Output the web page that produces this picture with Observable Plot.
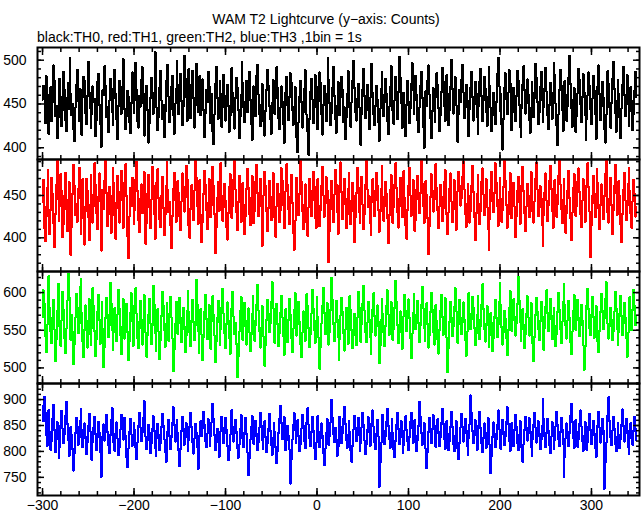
<!DOCTYPE html>
<html>
<head>
<meta charset="utf-8">
<script src="https://cdn.jsdelivr.net/npm/d3@7"></script>
<script src="https://cdn.jsdelivr.net/npm/@observablehq/plot@0.6"></script>
<style>
  body { margin: 0; background: #fff; }
  #chart { position: relative; width: 643px; height: 515px; font-family: "Liberation Sans", Arial, Helvetica, sans-serif; color: #000; background: #fff; overflow: hidden; }
  .title { position: absolute; left: 0; width: 652px; top: 12px; text-align: center; font-size: 14px; line-height: 14px; white-space: nowrap; }
  .subtitle { position: absolute; left: 37px; top: 30px; font-size: 14px; line-height: 14px; white-space: nowrap; }
  .panel { position: absolute; left: 0; }
  .panel svg { overflow: visible; display: block; }
</style>
</head>
<body>
<div id="chart">
  <div class="title">WAM T2 Lightcurve (y−axis: Counts)</div>
  <div class="subtitle">black:TH0, red:TH1, green:TH2, blue:TH3 ,1bin = 1s</div>
</div>
<script>
// ---- data ----
const startTime = -300;   // s
const binSize = 1;        // s
const th0 = [
455,471,463,428,482,447,440,416,461,469,430,452,494,477,436,448,411,434,460,479,458,425,443,487,466,
432,419,457,474,444,503,462,437,450,421,408,446,472,489,453,430,467,441,415,458,481,476,439,427,459,
498,463,445,422,438,470,452,456,413,431,475,484,449,427,401,442,466,460,493,471,435,447,418,454,479,
468,441,426,457,489,462,433,410,448,476,453,439,470,501,482,444,421,436,465,458,429,417,451,486,473,
440,455,497,466,430,423,459,447,478,492,451,414,437,462,471,443,406,428,457,480,463,439,452,509,475,
446,420,435,468,488,454,433,449,412,441,476,463,495,458,429,444,470,482,437,416,450,467,499,472,438,
461,484,453,426,447,505,479,458,431,469,490,446,434,472,488,457,423,449,496,468,441,465,482,437,455,
478,443,412,439,466,452,487,470,428,445,461,419,404,438,473,492,457,433,450,476,462,424,447,483,459,
431,454,472,448,418,436,467,491,463,440,422,457,480,469,443,411,435,460,498,474,446,429,452,476,441,
463,487,455,427,409,444,470,458,436,482,495,461,438,425,449,473,456,430,414,442,466,489,471,448,433,
416,451,477,462,439,457,492,468,434,421,446,470,453,427,405,438,463,481,449,432,458,485,474,443,426,
447,469,436,412,395,429,458,476,452,423,441,467,489,461,437,418,392,433,464,479,455,428,446,483,470,
444,421,453,486,474,438,415,449,471,457,430,462,502,478,451,426,440,468,492,459,433,417,448,475,463,
437,458,481,466,429,446,410,435,462,488,470,445,424,452,477,499,468,441,431,456,473,447,419,403,439,
466,490,459,434,450,472,443,421,457,484,496,463,438,426,448,471,455,429,408,444,467,486,460,436,452,
479,462,430,416,447,469,493,475,442,427,454,481,458,433,464,504,480,451,423,440,463,437,413,449,476,
453,428,445,473,497,466,439,455,482,460,432,418,446,471,487,457,424,400,436,465,448,477,494,461,434,
411,442,468,453,429,458,485,472,445,419,437,464,491,476,448,431,456,483,462,426,443,470,500,467,439,
457,481,449,422,407,438,466,452,478,495,463,434,446,472,455,428,413,444,469,487,458,431,450,475,462,
435,416,448,476,490,459,430,454,481,467,441,425,458,492,471,446,419,437,463,450,427,452,484,503,470,
442,461,427,398,433,469,485,456,438,463,489,474,447,420,441,468,453,430,459,488,477,449,424,412,445,
472,493,466,439,451,478,460,432,417,446,475,463,435,457,496,480,452,427,441,470,487,455,429,446,468,
491,464,437,421,449,474,458,433,462,497,483,450,426,403,438,466,489,471,443,419,452,476,460,431,447,
480,505,473,445,424,455,468,441,418,436,462,490,477,450,429,458,484,463,437,409,433,460,486,471,444,
427,456,482,465,439,410,442,470,494,461,432,448,475,457,421,406,438,466,488,473,446,423,451,479,498,
467,440,418,453,477,462,434,411,445,472,492,460,436,457,483,450,425,442,469,453,420,438,465,487,458
];
const th1 = [
442,468,411,396,437,459,480,425,404,433,471,452,417,389,428,463,491,446,420,438,475,455,401,416,449,
477,434,408,445,466,430,380,413,452,486,461,427,440,419,458,483,447,405,423,469,436,392,431,470,456,
424,397,439,474,451,418,437,488,462,429,410,448,476,443,385,421,457,434,467,492,453,414,428,460,439,
406,450,482,465,426,399,441,473,435,418,454,479,444,412,430,466,487,449,402,376,425,459,437,471,448,
416,433,469,490,455,421,407,446,463,429,440,478,451,393,417,452,474,436,411,445,484,462,428,399,438,
466,481,447,422,413,449,472,435,403,427,461,489,456,430,442,415,388,426,458,477,444,419,436,467,453,
425,409,443,476,460,431,448,485,469,437,414,400,434,462,450,421,456,493,471,438,416,445,468,427,395,
418,452,479,463,433,410,441,470,455,424,439,484,461,428,382,412,447,466,432,457,488,450,420,436,464,
444,413,398,429,460,475,446,423,437,469,491,457,430,409,442,473,452,419,434,465,439,404,426,458,481,
459,428,415,447,473,440,417,432,466,486,453,426,444,470,438,390,413,451,478,461,431,408,435,467,449,
421,443,476,458,424,401,437,464,452,419,433,482,468,439,411,428,455,487,462,434,416,448,474,441,406,
386,420,457,471,445,427,452,493,466,432,410,439,463,448,418,402,436,470,455,426,444,478,460,423,412,
447,469,438,414,433,461,484,450,425,441,472,456,429,371,408,445,467,434,419,451,480,463,431,405,437,
462,489,454,422,440,470,446,411,427,458,476,443,416,432,465,449,395,424,453,483,459,430,418,447,472,
439,410,428,463,491,457,436,449,417,403,442,469,455,426,444,477,462,433,407,431,458,485,448,420,438,
466,452,423,394,427,456,474,441,418,436,463,488,459,430,412,446,471,437,424,453,479,447,415,399,433,
461,483,450,426,442,468,435,408,421,457,473,446,429,453,492,464,438,417,440,467,451,423,381,414,448,
475,456,431,445,470,487,459,432,411,437,462,448,420,435,466,480,452,427,404,430,458,476,443,419,441,
468,434,409,424,455,478,461,438,447,472,490,457,428,413,440,463,449,418,432,461,485,454,425,397,429,
452,474,440,416,431,466,482,451,427,444,469,436,410,385,422,457,478,443,430,453,488,465,437,414,445,
471,446,419,433,460,493,467,439,412,428,454,476,448,423,441,465,437,401,425,456,472,442,416,434,462,
484,455,429,408,437,464,450,424,446,478,459,431,418,443,470,489,457,426,436,461,447,415,390,427,453,
476,444,420,438,467,485,458,432,411,442,468,451,425,440,473,492,463,434,417,445,470,438,406,429,456,
479,447,423,397,430,459,475,449,426,437,466,482,454,428,413,444,469,446,419,433,462,488,460,431,377,
415,450,473,441,424,452,481,465,435,410,439,463,447,422,449,476,493,458,430,418,446,471,439,404,432,
461,486,453,427,440,467,449,416,395,428,457,477,444,421,438,464,483,455,429,412,443,468,452,425,436
];
const th2 = [
568,603,585,542,521,557,596,622,579,548,533,566,590,551,509,538,575,612,584,555,529,563,601,577,540,
520,552,589,625,594,561,537,570,548,505,531,567,598,580,546,559,607,618,573,535,514,550,583,562,527,
545,591,569,530,553,606,582,549,516,538,574,597,564,532,558,587,552,501,528,566,593,571,541,556,613,
586,550,524,547,579,560,536,571,604,578,543,518,555,591,567,539,557,585,548,510,535,573,599,562,529,
552,583,606,572,540,526,561,589,553,531,564,597,575,547,515,544,570,592,559,532,556,609,584,546,523,
557,578,548,512,537,569,601,582,550,528,558,586,563,536,572,594,567,539,496,524,559,588,571,545,560,
593,566,534,551,580,555,521,543,576,602,574,547,529,563,590,561,537,556,617,585,549,520,553,578,544,
510,541,574,597,565,538,557,584,549,525,562,595,570,543,508,535,567,589,561,530,552,581,605,572,546,
526,558,587,563,540,519,554,580,601,568,545,560,532,488,515,548,575,594,566,537,556,586,563,531,550,
579,547,522,544,571,595,562,536,557,584,610,576,549,527,553,582,568,541,503,530,564,590,572,548,559,
587,614,580,551,533,560,585,558,529,546,573,596,567,542,517,549,578,556,534,564,592,570,539,521,552,
577,599,571,543,558,588,561,532,514,547,575,557,536,566,598,582,553,528,545,572,604,579,550,533,562,
594,568,540,499,527,559,583,606,573,545,556,586,562,531,548,577,619,590,558,536,560,589,565,541,511,
538,570,593,574,546,523,551,580,557,532,563,596,577,550,526,544,572,555,530,567,601,581,552,535,558,
585,609,576,548,534,560,588,565,541,518,547,578,599,569,543,555,583,561,506,530,564,592,572,547,529,
556,582,603,571,544,559,587,563,537,552,580,616,588,557,533,548,575,554,525,541,569,597,576,549,566,
591,567,539,513,545,573,598,570,551,564,589,560,534,557,584,608,579,553,536,562,586,558,527,543,574,
600,577,548,531,556,583,562,538,519,550,576,597,568,544,560,593,571,540,494,526,561,588,566,542,555,
581,606,575,549,533,558,590,567,545,561,587,564,537,516,548,577,599,572,551,565,594,580,553,530,546,
570,596,563,538,555,584,611,578,552,535,559,582,557,528,544,573,560,522,539,568,590,566,541,557,587,
613,583,554,531,547,576,565,540,517,550,579,602,574,549,563,591,568,543,560,585,621,589,561,536,552,
578,557,526,545,572,595,567,543,558,586,564,532,509,541,570,593,575,551,537,562,588,569,546,524,553,
581,603,573,549,565,592,570,538,554,579,556,529,545,574,600,577,552,533,561,587,611,583,556,539,563,
589,566,534,518,548,576,597,571,550,563,590,567,542,557,584,562,530,497,528,559,583,605,578,553,544,
571,594,568,540,556,582,560,535,521,549,574,598,576,551,566,592,614,587,558,539,555,580,564,537,549,
575,601,579,552,530,547,573,596,569,544,560,586,566,540,515,546,572,594,563,550,577,604,582,557,568
];
const th3 = [
887,858,905,874,832,811,846,879,837,803,820,862,889,841,798,824,856,830,787,809,851,878,844,816,834,
868,896,853,821,792,819,847,831,805,763,796,835,864,848,813,827,859,881,842,808,826,854,829,795,817,
850,873,839,806,784,818,845,866,833,802,828,857,836,799,751,790,829,852,821,843,870,837,812,797,831,
860,883,847,816,801,834,856,825,793,809,842,871,852,823,837,865,830,788,770,806,838,862,833,811,825,
854,841,808,785,817,849,875,846,820,836,864,898,859,828,804,822,851,835,797,815,843,868,840,807,791,
826,853,832,802,816,847,872,849,824,798,779,812,838,861,830,805,827,856,885,851,819,833,860,835,801,
771,805,840,866,843,813,828,855,831,800,822,849,874,847,818,796,825,853,837,809,766,798,832,858,829,
845,876,852,820,808,834,862,839,811,829,856,892,863,832,803,817,844,823,790,807,839,867,846,816,835,
864,841,810,783,802,831,857,880,848,819,835,861,838,806,788,813,843,870,852,824,808,836,864,834,798,
755,787,822,847,869,836,815,830,859,833,802,818,846,875,850,821,805,832,858,828,799,816,843,872,839,
812,793,826,854,837,808,777,801,835,863,888,855,824,840,867,833,802,821,849,830,804,738,784,823,851,
874,842,817,834,860,829,800,814,844,871,849,819,806,833,857,883,852,825,811,838,866,839,807,785,816,
846,869,837,808,826,854,831,797,774,805,836,862,841,813,829,856,900,864,833,818,845,823,792,809,840,
867,848,816,835,863,886,853,822,807,831,859,837,802,780,811,842,869,846,820,836,865,832,800,817,847,
875,851,821,795,813,841,866,838,810,826,854,879,848,818,805,834,861,829,732,778,817,845,871,840,814,
830,857,882,849,823,807,835,863,836,803,789,820,852,875,843,814,831,858,827,796,812,841,868,842,819,
802,828,856,874,845,817,833,861,830,801,822,849,895,866,836,813,827,854,833,805,768,799,838,864,840,
816,843,870,851,824,808,836,862,838,810,827,855,882,853,823,804,831,859,834,802,820,848,876,847,815,
800,829,858,837,806,785,817,846,872,848,819,835,863,840,811,794,825,852,908,874,839,816,833,860,832,
803,821,850,877,845,816,798,826,854,830,807,836,865,843,812,758,791,828,856,834,809,823,851,879,844,
819,805,834,861,838,812,829,857,885,853,820,800,826,855,833,810,841,870,847,816,802,831,859,836,807,
780,814,842,867,845,821,836,864,839,808,791,823,852,874,846,817,830,858,835,804,822,850,901,863,829,
808,835,862,840,813,797,828,856,833,805,821,849,876,851,824,810,837,865,842,815,751,789,826,854,838,
811,836,868,892,857,825,806,832,860,837,809,824,853,879,848,820,801,829,856,834,803,818,847,873,841,
814,831,859,835,807,790,822,851,877,846,817,834,862,839,728,779,816,845,870,905,858,827,812,840,866,
843,815,800,828,855,832,806,823,852,881,849,819,836,863,840,809,795,826,854,831,813,839,867,844,821
];

// axis ranges and tick labels
const xDomain = [-305.5, 352.5];
const xMajorTicks = [-300, -200, -100, 0, 100, 200, 300];
const xMinorStep = 20;
const yDomains = [[386.6, 514.5], [360.2, 492.5], [479.3, 628], [715, 931]];
const yMajorTicks = [[400, 450, 500], [400, 450], [500, 550, 600], [750, 800, 850, 900]];
const yMinorStep = 10;

// ---- styles ----
const seriesList = [th0, th1, th2, th3];
const colors = ["#000000", "#ff0000", "#00ff00", "#0000ff"];
const panelTop = 47, panelH = 112, bottomMargin = 22;
const fontFamily = '"Liberation Sans", Arial, Helvetica, sans-serif';

const xMinorTicks = d3.range(-300, xDomain[1], xMinorStep);
const chart = document.getElementById("chart");

seriesList.forEach((values, k) => {
  const yd = yDomains[k];
  const yMinor = d3.range(Math.ceil(yd[0] / yMinorStep) * yMinorStep, yd[1], yMinorStep);
  const last = k === seriesList.length - 1;
  const data = values.map((v, i) => ({t: startTime + i * binSize, c: v}));
  const tickOpts = {fill: "none", label: null, strokeWidth: 1.5};
  const marks = [
    Plot.lineY(data, {x: "t", y: "c", curve: "step", stroke: colors[k], strokeWidth: 2, shapeRendering: "crispEdges", clip: true}),
    Plot.frame({stroke: "#000", strokeWidth: 2}),
    Plot.axisX({anchor: "bottom", ticks: xMajorTicks, tickSize: -7, ...tickOpts}),
    Plot.axisX({anchor: "bottom", ticks: xMinorTicks, tickSize: -4, ...tickOpts}),
    Plot.axisX({anchor: "top", ticks: xMajorTicks, tickSize: -7, ...tickOpts}),
    Plot.axisX({anchor: "top", ticks: xMinorTicks, tickSize: -4, ...tickOpts}),
    Plot.axisY({anchor: "left", ticks: yMajorTicks[k], tickSize: -7, ...tickOpts}),
    Plot.axisY({anchor: "left", ticks: yMinor, tickSize: -4, ...tickOpts}),
    Plot.axisY({anchor: "right", ticks: yMajorTicks[k], tickSize: -7, ...tickOpts}),
    Plot.axisY({anchor: "right", ticks: yMinor, tickSize: -4, ...tickOpts}),
    Plot.axisY({anchor: "left", ticks: yMajorTicks[k], tickSize: 0, tickPadding: 11, fontSize: 14, label: null, fill: "#000"})
  ];
  if (last) {
    marks.push(Plot.axisX({anchor: "bottom", ticks: xMajorTicks, tickSize: 0, tickPadding: 5, fontSize: 14, label: null, fill: "#000"}));
  }
  const svg = Plot.plot({
    width: 643,
    height: panelH + (last ? bottomMargin : 0),
    marginLeft: 37,
    marginRight: 4,
    marginTop: 0,
    marginBottom: last ? bottomMargin : 0,
    x: {domain: xDomain, axis: null},
    y: {domain: yd, axis: null},
    style: {fontFamily, fontSize: "14px", background: "transparent", color: "#000", overflow: "visible"},
    marks
  });
  const div = document.createElement("div");
  div.className = "panel";
  div.style.top = (panelTop + k * panelH) + "px";
  div.appendChild(svg);
  chart.appendChild(div);
});
</script>
</body>
</html>
